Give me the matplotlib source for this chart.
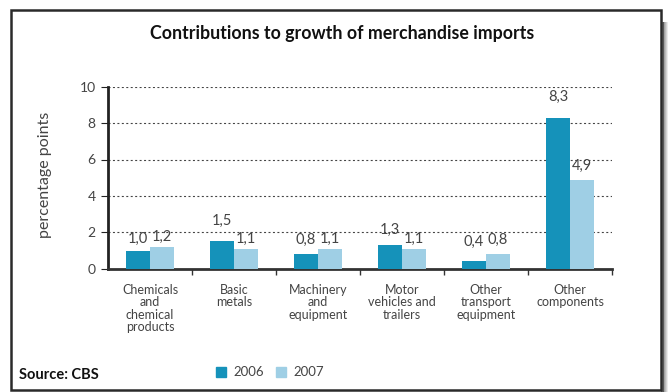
import matplotlib
matplotlib.use("Agg")
import matplotlib.pyplot as plt
from matplotlib.patches import Rectangle
import numpy as np

plt.rcParams['font.family'] = ['Lato', 'DejaVu Sans']

categories = ["Chemicals\nand\nchemical\nproducts", "Basic\nmetals",
              "Machinery\nand\nequipment", "Motor\nvehicles and\ntrailers",
              "Other\ntransport\nequipment", "Other\ncomponents"]
values_2006 = [1.0, 1.5, 0.8, 1.3, 0.4, 8.3]
values_2007 = [1.2, 1.1, 1.1, 1.1, 0.8, 4.9]
series_names = ["2006", "2007"]
yticks = [0, 2, 4, 6, 8, 10]

color_2006 = "#1592BA"
color_2007 = "#9FCFE5"
text_gray = "#444444"

# label lift above each bar top, in points
lift_2006 = [3, 10, 5, 6, 9, 10]
lift_2007 = [2, 2, 2, 2, 5, 5]

fig = plt.figure(figsize=(6.69, 3.92), dpi=100)

# outer frame with a soft drop shadow on the right
for i, a in enumerate(np.linspace(0.55, 0.08, 6)):
    fig.patches.append(Rectangle((661 / 669 + i * 1.2 / 669, 0), 1.3 / 669, 370 / 392,
                                 transform=fig.transFigure, color="black",
                                 alpha=a, lw=0, zorder=0))
fig.patches.append(Rectangle((11 / 669, 2 / 392), 650 / 669, 380 / 392,
                             transform=fig.transFigure, facecolor="white",
                             edgecolor="#2a2a2a", lw=1.8, zorder=1))

ax = fig.add_axes([108 / 669, (392 - 268.7) / 392, 504 / 669, 182 / 392])
ax.set_zorder(2)
ax.patch.set_visible(False)

x = np.arange(len(categories))
w = 0.286
b1 = ax.bar(x - w / 2, values_2006, w, color=color_2006, zorder=3)
b2 = ax.bar(x + w / 2, values_2007, w, color=color_2007, zorder=3)

fmt = lambda v: f"{v:.1f}".replace(".", ",")
for bars, vals, lifts in ((b1, values_2006, lift_2006), (b2, values_2007, lift_2007)):
    for r, v, l in zip(bars, vals, lifts):
        ax.annotate(fmt(v), (r.get_x() + r.get_width() / 2, v), xytext=(0, l),
                    textcoords="offset points", ha="center", va="bottom",
                    fontsize=10.5, color=text_gray, zorder=4)

ax.set_xlim(-0.5, len(categories) - 0.5)
ax.set_ylim(0, 10)
ax.set_yticks(yticks)
ax.set_yticklabels([str(t) for t in yticks], fontsize=10, color=text_gray)
ax.tick_params(axis="y", length=5, width=0.8, color="#222222", pad=4)

ax.set_xticks(x)
ax.set_xticklabels(categories, fontsize=9, color=text_gray, linespacing=1.05, va="top")
ax.tick_params(axis="x", which="major", length=0, pad=11)
ax.set_xticks(np.arange(len(categories)) + 0.5, minor=True)
ax.tick_params(axis="x", which="minor", length=4, width=1, color="#333333")

for y in yticks[1:]:
    ax.axhline(y, color="#444444", lw=0.8, ls=(0, (1.8, 2.2)), zorder=1)

for s in ("top", "right"):
    ax.spines[s].set_visible(False)
ax.spines["left"].set_color("#222222")
ax.spines["left"].set_linewidth(2)
ax.spines["bottom"].set_color("#333333")
ax.spines["bottom"].set_linewidth(2)

fig.text(45 / 669, 1 - 175 / 392, "percentage points", rotation=90,
         ha="center", va="center", fontsize=11.5, color=text_gray)

fig.text(342 / 669, 1 - 33 / 392, "Contributions to growth of merchandise imports",
         ha="center", va="center", fontsize=12.8, fontweight="bold", color="#111111")

fig.text(19 / 669, 1 - 375 / 392, "Source: CBS", ha="left", va="center",
         fontsize=10.5, fontweight="bold", color="#111111")

# legend
for sx, col, name in ((216, color_2006, series_names[0]), (276, color_2007, series_names[1])):
    fig.patches.append(Rectangle((sx / 669, 1 - 377 / 392), 9.5 / 669, 10 / 392,
                                 transform=fig.transFigure, color=col, zorder=3))
    fig.text((sx + 17) / 669, 1 - 371.5 / 392, name, ha="left", va="center",
             fontsize=9.5, color=text_gray)

fig.savefig("out.png", dpi=100)
